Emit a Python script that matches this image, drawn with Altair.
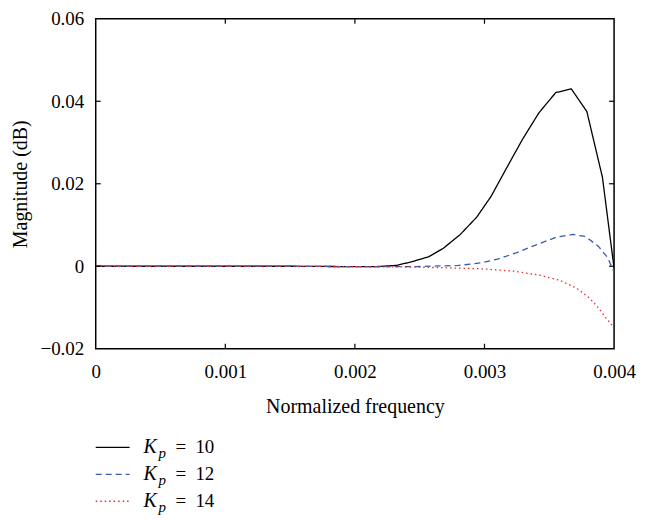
import altair as alt
import pandas as pd

# ---- data ----
series_names = ["Kp = 10", "Kp = 12", "Kp = 14"]
series_labels = ["10", "12", "14"]

freq_k10 = [0, 0.0005, 0.001, 0.0015, 0.002, 0.00216, 0.00232, 0.00244, 0.00257, 0.00268,
            0.00281, 0.00294, 0.00305, 0.00316, 0.00329, 0.00342, 0.00355, 0.00367,
            0.00379, 0.00391, 0.004]
mag_k10 = [0, 0, 0, 0, -0.0001, -0.0001, 0.0002, 0.0011, 0.0023, 0.0043,
           0.0076, 0.0119, 0.0169, 0.0232, 0.0306, 0.0372, 0.0421, 0.0430,
           0.0375, 0.0216, -0.0005]

freq_k12 = [0, 0.0005, 0.001, 0.0015, 0.002, 0.00247, 0.0028, 0.00297, 0.0031, 0.00325,
            0.0034, 0.00355, 0.00368, 0.00378, 0.00388, 0.00395, 0.004]
mag_k12 = [0, 0, 0, 0, -0.0001, -0.0001, 0.0002, 0.0008, 0.0017, 0.0033,
           0.0052, 0.0070, 0.0077, 0.0072, 0.0048, 0.0021, -0.0014]

freq_k14 = [0, 0.0005, 0.001, 0.0015, 0.002, 0.00247, 0.00297, 0.00323, 0.00343, 0.00358,
            0.00371, 0.00381, 0.00388, 0.00393, 0.00397, 0.004]
mag_k14 = [0, 0, 0, 0, -0.0001, -0.0002, -0.0006, -0.0012, -0.0022, -0.0034,
           -0.0053, -0.0077, -0.0101, -0.0123, -0.0137, -0.0150]

x_ticks = [0, 0.001, 0.002, 0.003, 0.004]
y_ticks = [-0.02, 0, 0.02, 0.04, 0.06]
x_inner_ticks = [0.001, 0.002, 0.003]
y_inner_ticks = [0, 0.02, 0.04]

colors = ["#000000", "#3a5ba8", "#ee2a2a"]
dashes = [[1, 0], [6, 4], [1.5, 3]]

FONT = "Liberation Serif"
W, H = 520, 331

rows = []
for name, fx, my in zip(series_names, [freq_k10, freq_k12, freq_k14], [mag_k10, mag_k12, mag_k14]):
    for i, (f, m) in enumerate(zip(fx, my)):
        rows.append({"series": name, "freq": f, "mag": m, "order": i})
df = pd.DataFrame(rows)

xscale = alt.Scale(domain=[0, 0.004], nice=False, zero=False)
yscale = alt.Scale(domain=[-0.02, 0.06], nice=False, zero=False)
color_scale = alt.Scale(domain=series_names, range=colors)
dash_scale = alt.Scale(domain=series_names, range=dashes)

xaxis = alt.Axis(values=x_ticks, format=".3~f", ticks=False, domain=False, grid=False,
                 labelFlush=False, labelPadding=14, titlePadding=15,
                 labelFont=FONT, labelFontSize=19, labelColor="black",
                 titleFont=FONT, titleFontSize=20, titleFontWeight="normal", titleColor="black")
yaxis = alt.Axis(values=y_ticks, format=".2~f", ticks=False, domain=False, grid=False,
                 labelPadding=12, titlePadding=9,
                 labelFont=FONT, labelFontSize=19, labelColor="black",
                 titleFont=FONT, titleFontSize=20, titleFontWeight="normal", titleColor="black")

lines = alt.Chart(df).mark_line(strokeWidth=1.3, clip=True).encode(
    x=alt.X("freq:Q", scale=xscale, axis=xaxis, title="Normalized frequency"),
    y=alt.Y("mag:Q", scale=yscale, axis=yaxis, title="Magnitude (dB)"),
    color=alt.Color("series:N", scale=color_scale, legend=None),
    strokeDash=alt.StrokeDash("series:N", scale=dash_scale, legend=None),
    order="order:Q",
)

xt = pd.DataFrame({"v": x_inner_ticks})
yt = pd.DataFrame({"v": y_inner_ticks})
tick_bottom = alt.Chart(xt).mark_rule(color="black", strokeWidth=1.2).encode(
    x=alt.X("v:Q", scale=xscale), y=alt.value(H), y2=alt.value(H - 5))
tick_top = alt.Chart(xt).mark_rule(color="black", strokeWidth=1.2).encode(
    x=alt.X("v:Q", scale=xscale), y=alt.value(0), y2=alt.value(5))
tick_left = alt.Chart(yt).mark_rule(color="black", strokeWidth=1.2).encode(
    y=alt.Y("v:Q", scale=yscale), x=alt.value(0), x2=alt.value(5))
tick_right = alt.Chart(yt).mark_rule(color="black", strokeWidth=1.2).encode(
    y=alt.Y("v:Q", scale=yscale), x=alt.value(W - 5), x2=alt.value(W))

main = alt.layer(lines, tick_bottom, tick_top, tick_left, tick_right).properties(
    width=W, height=H, view=alt.ViewBackground(stroke="black", strokeWidth=1.5))

# ---- legend below the plot ----
ldf = pd.DataFrame({"series": series_names, "label": series_labels})
lbase = alt.Chart(ldf).encode(
    y=alt.Y("series:N", axis=None, scale=alt.Scale(type="point", padding=0, domain=series_names)))
lline = lbase.mark_rule(strokeWidth=1.3).encode(
    x=alt.value(0), x2=alt.value(34),
    color=alt.Color("series:N", scale=color_scale, legend=None),
    strokeDash=alt.StrokeDash("series:N", scale=dash_scale, legend=None))
lk = lbase.mark_text(align="left", baseline="middle", font=FONT, fontSize=20,
                     fontStyle="italic", color="black").encode(x=alt.value(48), text=alt.value("K"))
lp = lbase.mark_text(align="left", baseline="middle", font=FONT, fontSize=15,
                     fontStyle="italic", color="black", dy=6).encode(x=alt.value(63), text=alt.value("p"))
leq = lbase.mark_text(align="left", baseline="middle", font=FONT, fontSize=19,
                      color="black").encode(x=alt.value(80), text=alt.value("="))
lval = lbase.mark_text(align="left", baseline="middle", font=FONT, fontSize=19,
                       color="black").encode(x=alt.value(100), text="label:N")
legend = alt.layer(lline, lk, lp, leq, lval).properties(
    width=W, height=54, view=alt.ViewBackground(strokeWidth=0))

chart = alt.vconcat(main, legend, spacing=20).properties(
    padding={"top": 0, "left": 2, "right": 0, "bottom": 0}
).configure_view(strokeWidth=0)

chart.save("out.html", embed_options={"renderer": "svg", "actions": False})
